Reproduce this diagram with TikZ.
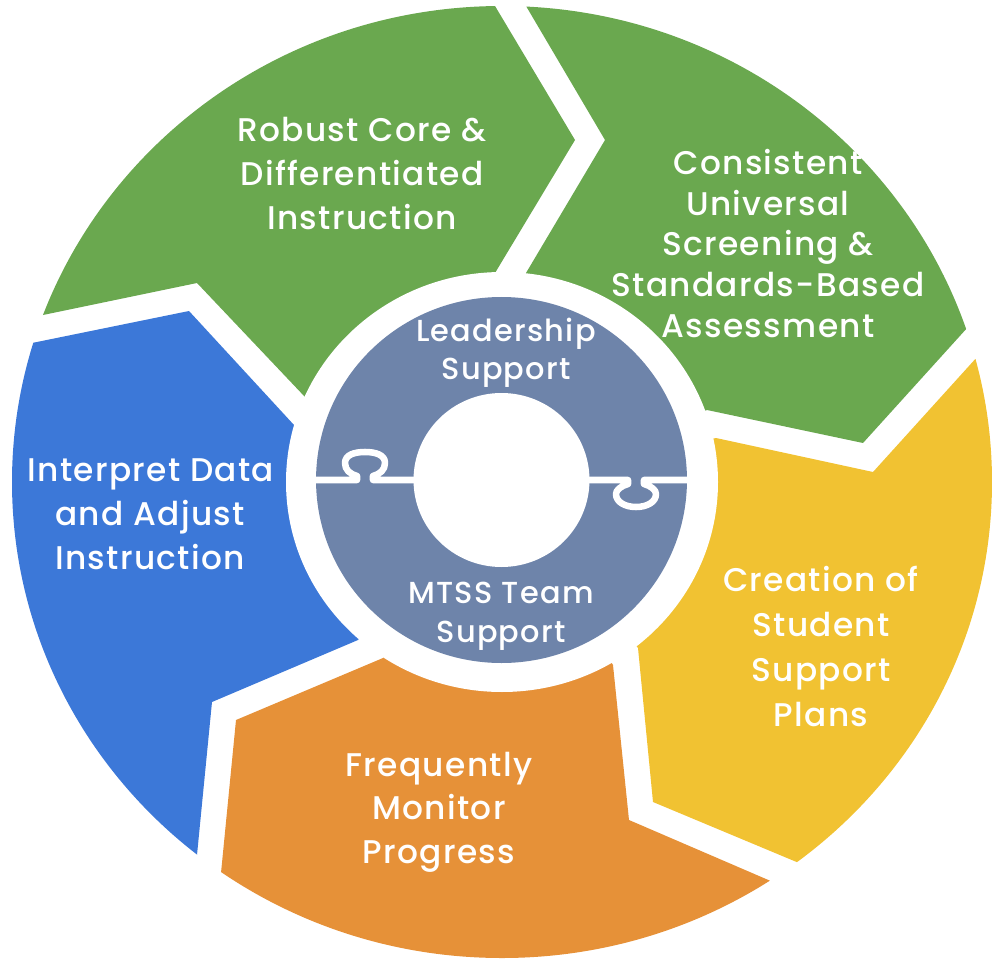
\documentclass[tikz,border=0pt]{standalone}
\usepackage{fontspec}
\setmainfont{Poppins}[UprightFont={* Medium}, LetterSpace=4]
\usetikzlibrary{calc}
\definecolor{grn}{HTML}{6AA84F}
\definecolor{blu}{HTML}{3C78D8}
\definecolor{ylw}{HTML}{F1C232}
\definecolor{org}{HTML}{E69138}
\definecolor{slt}{HTML}{6E84AA}
\begin{document}
\begin{tikzpicture}[x=0.75pt,y=-0.75pt,
  lbl/.style={text=white, font=\fontsize{24.6}{28}\selectfont, anchor=base, inner sep=0pt},
  ilbl/.style={lbl, font=\fontsize{22.8}{26}\selectfont},
  seam/.style={draw=white, line width=4.9pt, line join=round}]
\useasboundingbox (0,0) rectangle (992,959);
\coordinate (C) at (502,482);
\coordinate (D) at (501.5,480);
% ---- outer ring segments ----
\begin{scope}
\clip (C) ellipse [x radius=367.5pt, y radius=357pt];
% Robust Core (top-left green)
\fill[grn] ($(197,283)!3!(43,315)$) -- (197,283) -- (305,397) -- (C) -- (495,273) -- (575,140) -- ($(575,140)!3!(495,6)$) -- (-300,-300) -- cycle;
% Consistent Universal (top-right green)
\fill[grn] ($(605,140)!3!(526,6)$) -- (605,140) -- (526,273) -- (C) -- (707,410) -- (863,443) -- ($(863,443)!3!(968,327)$) -- (1300,-300) -- cycle;
% Creation of Student Support Plans (yellow)
\fill[ylw] ($(873,472)!3!(978,356)$) -- (873,472) -- (716,438) -- (C) -- (638,648) -- (653,802) -- ($(653,802)!3!(799,863)$) -- (1400,1200) -- cycle;
% Frequently Monitor Progress (orange)
\fill[org] ($(629,820)!3!(773,882)$) -- (629,820) -- (613,665) -- (C) -- (383,658) -- (236,720) -- ($(236,720)!3!(221,873)$) -- (600,1400) -- cycle;
% Interpret Data (blue)
\fill[blu] ($(212,702)!3!(197,855)$) -- (212,702) -- (358,640) -- (C) -- (294,425) -- (189,311) -- ($(189,311)!3!(32,343)$) -- (-300,1200) -- cycle;
\end{scope}
\fill[white] (C) ellipse [x radius=162pt, y radius=157.5pt];
% ---- centre puzzle ring ----
\fill[slt] (D) ellipse [x radius=139.1pt, y radius=137.25pt];
\fill[white] (D) ellipse [x radius=66pt, y radius=65.25pt];
\draw[seam] (305,480) -- (357,480) -- (357,476)
  .. controls (350,474) and (345,470) .. (345,463)
  .. controls (345,455) and (354,452) .. (365,452)
  .. controls (376,452) and (385,455) .. (385,463)
  .. controls (385,470) and (380,474) .. (373,476)
  -- (373,480) -- (420,480);
\draw[seam] (582,480) -- (628,480) -- (628,484)
  .. controls (621,486) and (616,490) .. (616,494)
  .. controls (616,502) and (625,507) .. (636,507)
  .. controls (647,507) and (656,502) .. (656,494)
  .. controls (656,490) and (651,486) .. (644,484)
  -- (644,480) -- (698,480);
% ---- labels ----
\node[lbl] (t1a) at (362,142) {Robust Core \&};
\node[lbl] (t1b) at (362,186) {Differentiated};
\node[lbl] (t1c) at (362,230) {Instruction};
\node[lbl] (t2a) at (768,175) {Consistent};
\node[lbl] (t2b) at (768,215.5) {Universal};
\node[lbl] (t2c) at (768,256) {Screening \&};
\node[lbl] (t2d) at (768,296.5) {Standards-Based};
\node[lbl] (t2e) at (768,337) {Assessment};
\node[lbl] (t3a) at (821,591) {Creation of};
\node[lbl] (t3b) at (821,636) {Student};
\node[lbl] (t3c) at (821,681) {Support};
\node[lbl] (t3d) at (821,726) {Plans};
\node[lbl] (t4a) at (439,776) {Frequently};
\node[lbl] (t4b) at (439,819) {Monitor};
\node[lbl] (t4c) at (439,863) {Progress};
\node[lbl] (t5a) at (151,481) {Interpret Data};
\node[lbl] (t5b) at (150,525) {and Adjust};
\node[lbl] (t5c) at (150,569) {Instruction};
\node[ilbl] (c1a) at (506,341) {Leadership};
\node[ilbl] (c1b) at (506,379) {Support};
\node[ilbl] (c2a) at (501,603) {MTSS Team};
\node[ilbl] (c2b) at (501,642) {Support};
\end{tikzpicture}
\end{document}
